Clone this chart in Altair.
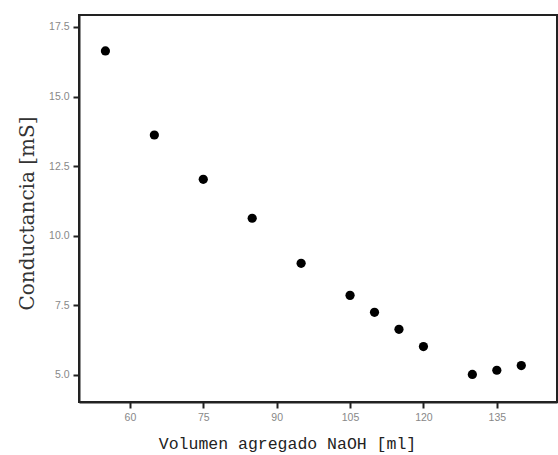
import altair as alt
import pandas as pd

volumen = [55, 65, 75, 85, 95, 105, 110, 115, 120, 130, 135, 140]
conductancia = [16.64, 13.62, 12.03, 10.63, 9.01, 7.86, 7.25, 6.64, 6.02, 5.02, 5.17, 5.34]
x_ticks = [60, 75, 90, 105, 120, 135]
y_ticks = [5.0, 7.5, 10.0, 12.5, 15.0, 17.5]

df = pd.DataFrame({"v": volumen, "c": conductancia})

chart = alt.Chart(df).mark_point(
    filled=True, shape="circle", size=85, color="black", opacity=1
).encode(
    x=alt.X("v:Q", scale=alt.Scale(domain=[49.6, 147.3], nice=False, zero=False),
            axis=alt.Axis(title="Volumen agregado NaOH [ml]", values=x_ticks, format="d",
                          titleFont="Liberation Mono", titleFontSize=16.5, titleFontWeight="normal",
                          titleColor="#222", titlePadding=13, titleX=208, titleAlign="center")),
    y=alt.Y("c:Q", scale=alt.Scale(domain=[4.03, 17.93], nice=False, zero=False),
            axis=alt.Axis(title="Conductancia [mS]", values=y_ticks, format=".1f",
                          titleFont="DejaVu Serif", titleFontSize=20, titleFontWeight="normal",
                          titleColor="#333", titlePadding=11, titleY=198)),
).properties(
    width=478, height=387,
    autosize=alt.AutoSizeParams(type="none"),
    padding={"left": 79, "top": 15, "right": 1, "bottom": 53},
).configure_view(
    stroke="#222", strokeWidth=2
).configure_axis(
    grid=False, domainColor="#222", domainWidth=2, tickColor="#222", tickWidth=2,
    tickSize=6, labelColor="#888", labelFont="Liberation Sans", labelFontSize=10.5,
    labelPadding=4
)

chart.save("out.html", embed_options={"renderer": "svg", "actions": False})
